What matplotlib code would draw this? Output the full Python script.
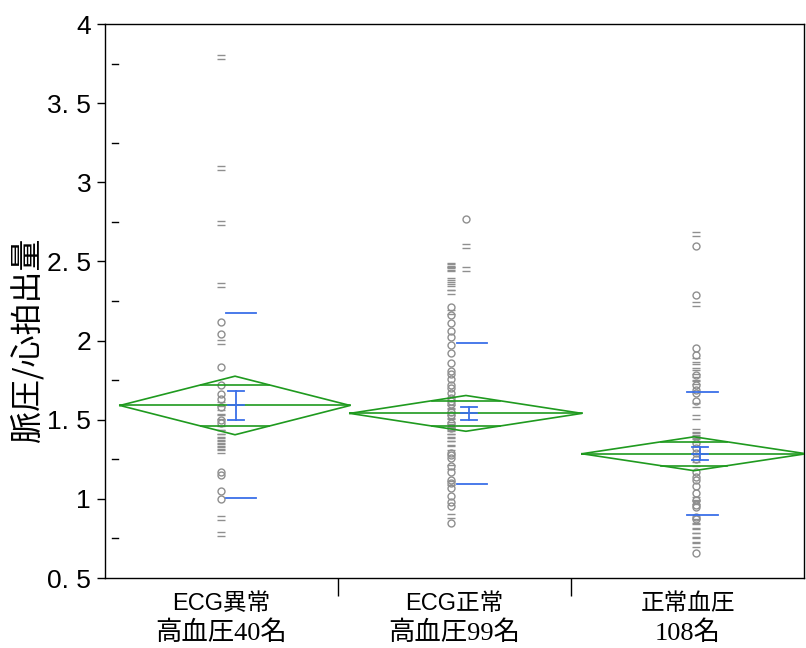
import numpy as np
import matplotlib
matplotlib.use("Agg")
import matplotlib.pyplot as plt
from matplotlib.path import Path
from matplotlib.transforms import blended_transform_factory

plt.rcParams['font.family'] = ['Liberation Sans', 'Noto Sans CJK JP', 'DejaVu Sans']

# ---------------- data ----------------
categories_line1 = ["ECG異常", "ECG正常", "正常血圧"]
categories_line2 = ["高血圧40名", "高血圧99名", "108名"]

# individual observations (values read from the picture); "circ" drawn as open circles,
# "dash" drawn as the small double-dash glyphs seen in the picture
g1_circ = [2.12, 2.04, 1.83, 1.72, 1.66, 1.63, 1.58, 1.50, 1.48, 1.17, 1.15, 1.05, 1.00]
g1_dash = [3.79, 3.09, 2.74, 2.35, 1.99, 1.60, 1.55, 1.52, 1.45, 1.42, 1.40, 1.38,
           1.36, 1.34, 1.32, 1.30, 0.88, 0.78]
g2_circ = [2.21, 2.16, 2.11, 2.06, 2.02, 1.97, 1.92, 1.86, 1.81, 1.79, 1.76, 1.72,
           1.70, 1.67, 1.64, 1.62, 1.60, 1.55, 1.53, 1.48, 1.45, 1.29, 1.28, 1.26,
           1.21, 1.17, 1.12, 1.10, 1.07, 1.02, 0.98, 0.955, 0.85]
g2_dash = [2.48, 2.47, 2.46, 2.45, 2.38, 2.37, 2.33, 2.31, 2.18, 1.58, 1.56, 1.52,
           1.50, 1.46, 1.44, 1.42, 1.40, 1.38, 1.35, 1.32, 1.20, 1.10, 0.89]
g2_right_circ = [2.77]
g2_right_dash = [2.60, 2.455]
g3_circ = [2.60, 2.29, 1.95, 1.91, 1.78, 1.72, 1.69, 1.67, 1.62, 1.35, 1.32, 1.29,
           1.25, 1.17, 1.14, 1.12, 1.08, 1.035, 0.99, 0.96, 0.95, 0.885, 0.87, 0.66]
g3_dash = [2.675, 2.23, 1.88, 1.84, 1.80, 1.76, 1.74, 1.59, 1.515, 1.43, 1.41, 1.39,
           1.37, 1.22, 1.00, 0.98, 0.86, 0.83, 0.80, 0.77, 0.74, 0.71]

# group summaries
means = [1.59, 1.54, 1.285]
sds = [0.587, 0.445, 0.388]
ses = [0.094, 0.041, 0.041]
ci_half = [0.185, 0.113, 0.107]

yticks = [0.5, 1.0, 1.5, 2.0, 2.5, 3.0, 3.5, 4.0]
ytick_labels = ["0. 5", "1", "1. 5", "2", "2. 5", "3", "3. 5", "4"]

# ---------------- layout (positions in category units) ----------------
pts_x = [0.498, 1.484, 2.536]
right_x = 1.549
dia_cx = [0.558, 1.549, 2.528]
dia_hw = [0.494, 0.498, 0.481]
sd_x = [(0.519, 0.648), (1.511, 1.639), (2.498, 2.631)]
eb_x = [0.562, 1.564, 2.554]
cap_hw = 0.034

GRAY = '#8f8f8f'
GREEN = '#1f9a1f'
BLUE = '#3a6fe8'

dash_marker = Path([(-1, 0.45), (1, 0.45), (-1, -0.45), (1, -0.45)],
                   [Path.MOVETO, Path.LINETO, Path.MOVETO, Path.LINETO])

fig = plt.figure(figsize=(8.06, 6.48), dpi=100)
ax = fig.add_axes([105 / 806, 70 / 648, 699 / 806, 554 / 648])
ax.set_xlim(0, 3)
ax.set_ylim(0.5, 4.0)

circ_groups = [g1_circ, g2_circ, g3_circ]
dash_groups = [g1_dash, g2_dash, g3_dash]
for i in range(3):
    c = circ_groups[i]
    d = dash_groups[i]
    ax.plot([pts_x[i]] * len(c), c, linestyle='none', marker='o', markersize=5,
            mfc='none', mec=GRAY, mew=1.0, zorder=2)
    ax.plot([pts_x[i]] * len(d), d, linestyle='none', marker=dash_marker, markersize=6,
            mec=GRAY, mew=1.0, zorder=2)
ax.plot([right_x] * len(g2_right_circ), g2_right_circ, linestyle='none', marker='o',
        markersize=5, mfc='none', mec=GRAY, mew=1.0, zorder=2)
ax.plot([right_x] * len(g2_right_dash), g2_right_dash, linestyle='none',
        marker=dash_marker, markersize=6, mec=GRAY, mew=1.0, zorder=2)

k = 1 / np.sqrt(2)
for i in range(3):
    m, h, cx, hw = means[i], ci_half[i], dia_cx[i], dia_hw[i]
    ax.plot([cx - hw, cx, cx + hw, cx, cx - hw], [m, m + h, m, m - h, m],
            color=GREEN, lw=1.2, zorder=3)
    ax.plot([cx - hw, cx + hw], [m, m], color=GREEN, lw=1.2, zorder=3)
    ow = hw * (1 - k)
    for s in (1, -1):
        ax.plot([cx - ow, cx + ow], [m + s * h * k] * 2, color=GREEN, lw=1.2, zorder=3)
    # std dev lines
    for s in (1, -1):
        ax.plot(list(sd_x[i]), [m + s * sds[i]] * 2, color=BLUE, lw=1.3, zorder=4)
    # standard error bar
    ex = eb_x[i]
    ax.plot([ex, ex], [m - ses[i], m + ses[i]], color=BLUE, lw=1.3, zorder=4)
    for yy in (m - ses[i], m, m + ses[i]):
        ax.plot([ex - cap_hw, ex + cap_hw], [yy, yy], color=BLUE, lw=1.3, zorder=4)

# axes styling
for sp in ax.spines.values():
    sp.set_linewidth(1.0)
    sp.set_color('black')
ax.set_yticks(yticks)
ax.set_yticklabels(ytick_labels, fontsize=19)
ax.tick_params(axis='y', direction='out', length=6, width=1, pad=4)
ax.set_xticks([1, 2])
ax.set_xticklabels(['', ''])
ax.tick_params(axis='x', direction='out', length=13, width=1)

# inner minor ticks (detached from spine)
tr = blended_transform_factory(ax.transAxes, ax.transData)
for v in np.arange(0.75, 4.0, 0.5):
    ax.plot([0.010, 0.019], [v, v], color='black', lw=1, transform=tr, clip_on=False)

# category labels
trx = blended_transform_factory(ax.transData, fig.transFigure)
for i in range(3):
    ax.text(i + 0.5, 1 - 604 / 648, categories_line1[i], transform=trx, ha='center',
            va='center', fontsize=17, family=['Liberation Sans', 'Noto Sans CJK JP'])
    ax.text(i + 0.5, 1 - 633 / 648, categories_line2[i], transform=trx, ha='center',
            va='center', fontsize=19, family=['Liberation Serif', 'Noto Sans CJK JP'])

fig.text(27 / 806, 1 - 340 / 648, "脈圧/心拍出量", rotation=90, ha='center', va='center',
         fontsize=23, family=['Noto Sans CJK JP', 'DejaVu Sans'])

fig.savefig("out.png", dpi=100)
